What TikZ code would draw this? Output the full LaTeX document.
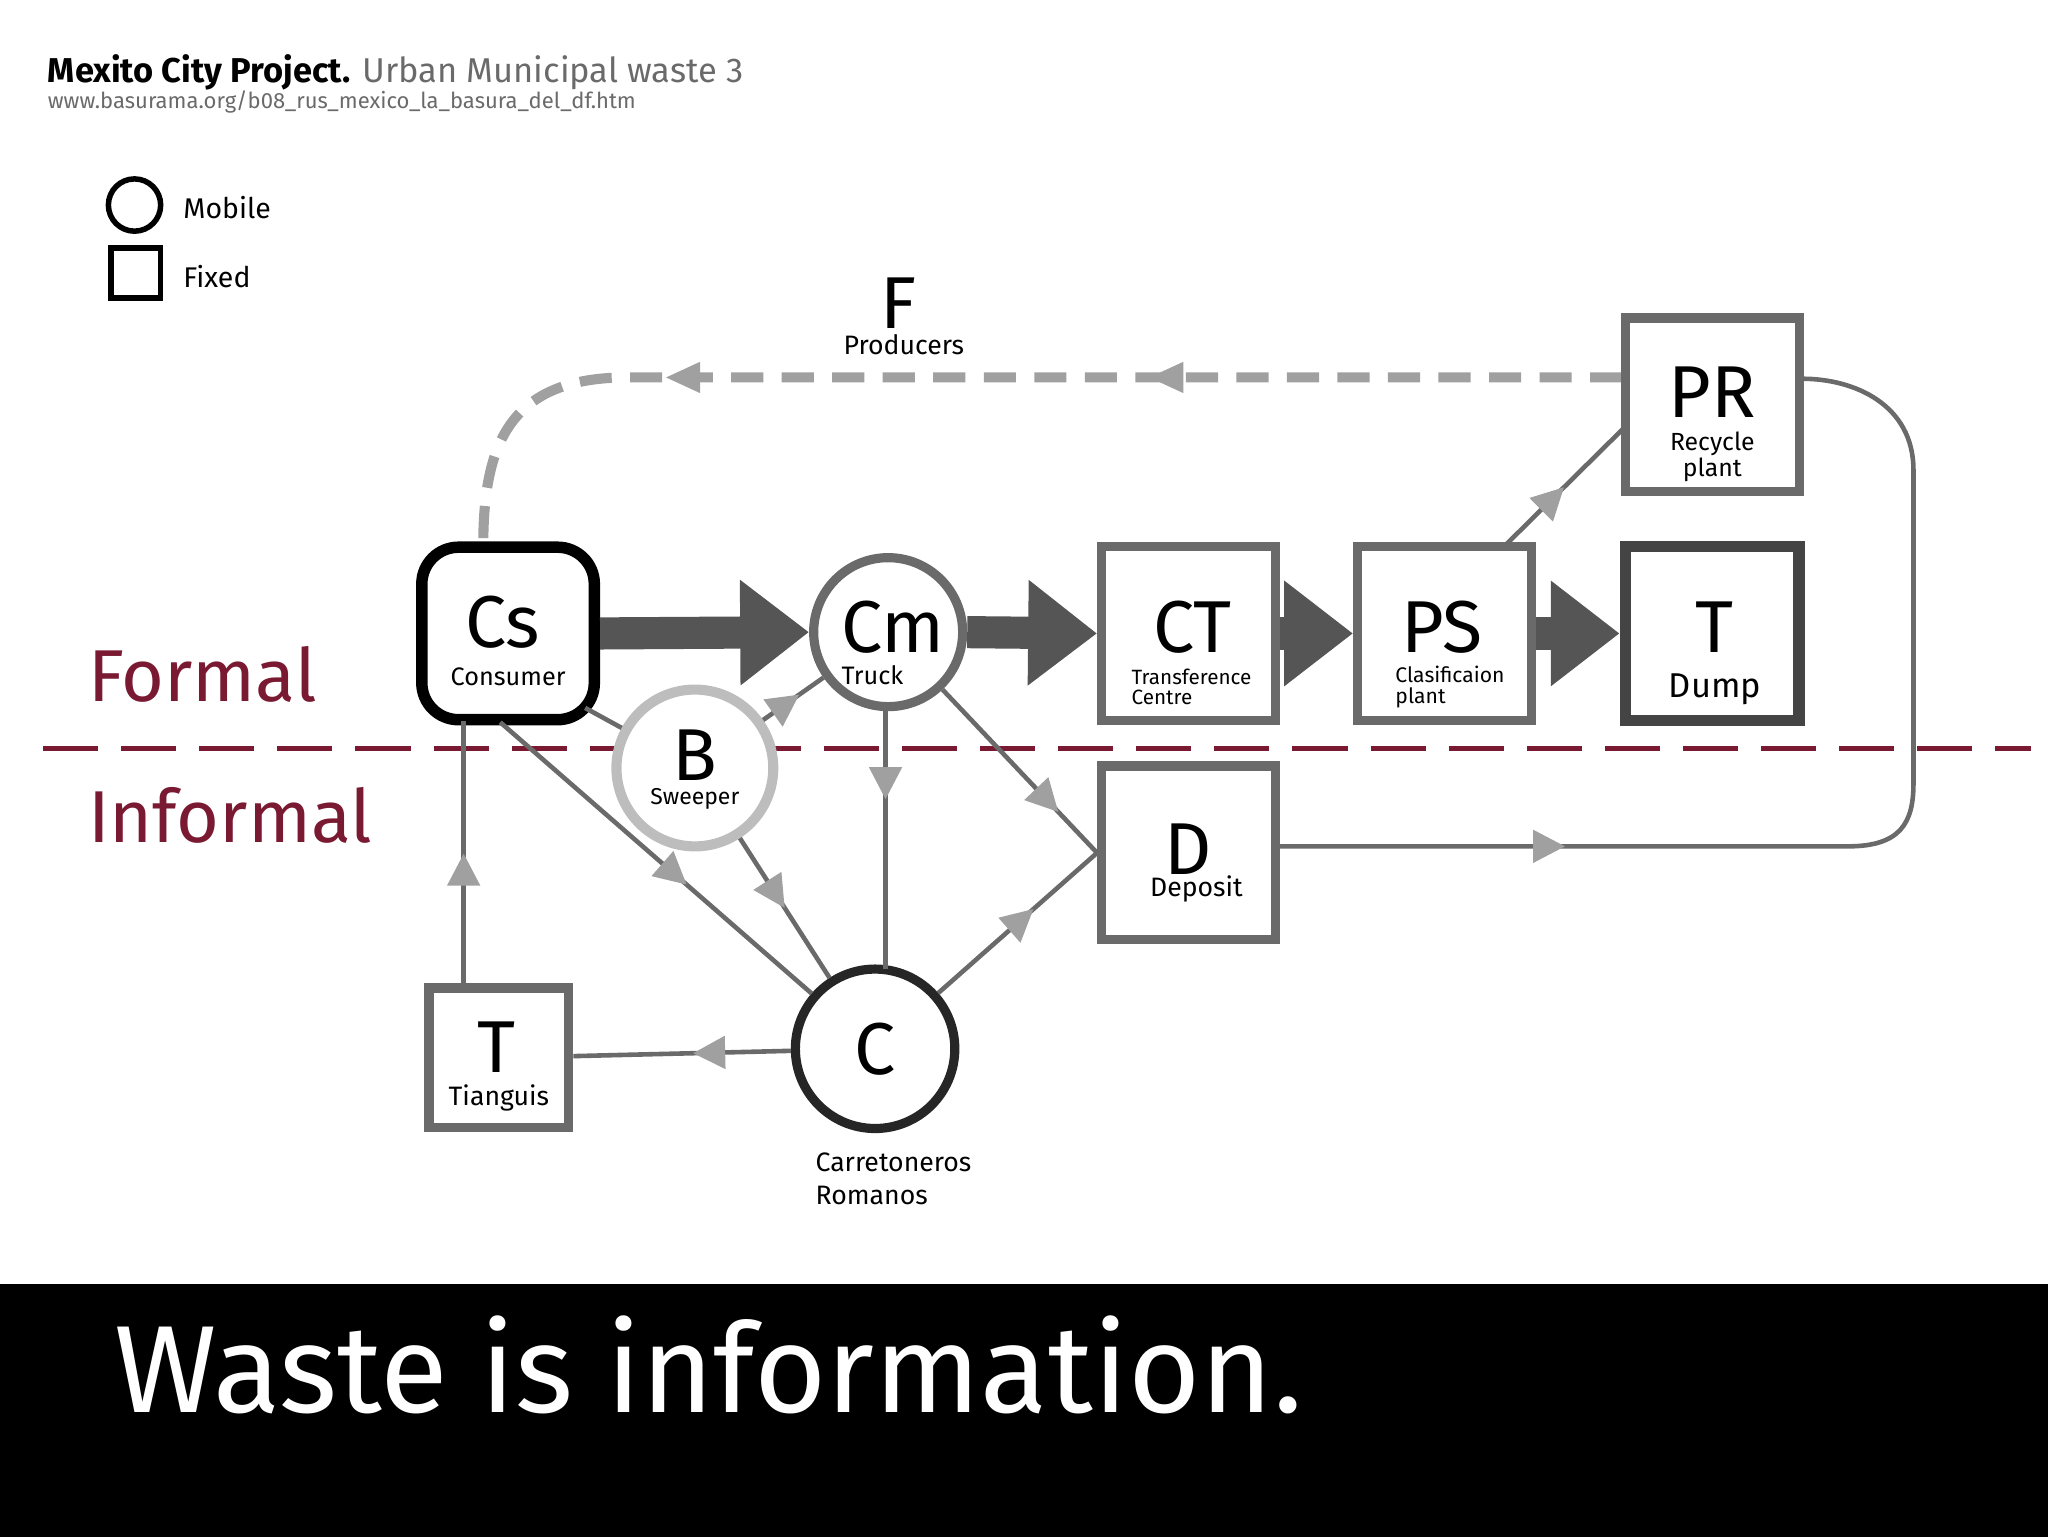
\documentclass[tikz,border=0pt]{standalone}
\usepackage{fontspec}
\setmainfont{Fira Sans}
\usetikzlibrary{arrows.meta,decorations.markings}
\definecolor{dred}{HTML}{7A1A32}
\definecolor{dg}{HTML}{555555}
\definecolor{mg}{HTML}{6A6A6A}
\definecolor{lg}{HTML}{A0A0A0}
\begin{document}
\begin{tikzpicture}[x=0.01cm,y=-0.01cm,
 fix/.style={draw=mg,line width=2pt,fill=white,minimum size=1.3cm,inner sep=0},
 mob/.style={circle,draw=mg,line width=2pt,fill=white,minimum size=1.2cm,inner sep=0},
 big/.style={font=\fontsize{16}{16}\selectfont},
 thick arr/.style={dg,line width=7pt,-{Triangle[length=15pt,width=22pt]}},
 thin/.style={mg,line width=1pt,postaction={decorate},decoration={markings,mark=at position #1 with {\arrow{Triangle[length=7pt,width=7pt,fill=lg,color=lg]}}}},
 thin/.default=0.5]
\useasboundingbox (0,0) rectangle (1568,1177);
\fill[black] (0,983) rectangle (1568,1177);
\node[anchor=west,white,font=\fontsize{27}{27}\selectfont] at (75,1045) {Waste is information.};
% title
\node[anchor=base west,inner sep=0,font=\fontsize{7.5}{8}\selectfont] at (36,63) {\textbf{Mexito City Project.} \textcolor{mg}{Urban Municipal waste 3}};
\node[anchor=base west,inner sep=0,font=\fontsize{4.8}{5}\selectfont,mg] at (36,83) {www.basurama.org/b08\_rus\_mexico\_la\_basura\_del\_df.htm};
% legend
\node[circle,draw,line width=1.2pt,minimum size=0.4cm,inner sep=0] (lm) at (103,157) {};
\node[anchor=west,font=\fontsize{6.2}{7}\selectfont] at (128,159) {Mobile};
\node[draw,line width=1.2pt,minimum size=0.38cm,inner sep=0] (lf) at (104,209) {};
\node[anchor=west,font=\fontsize{6.2}{7}\selectfont] at (128,212) {Fixed};
% formal / informal
\draw[dred,line width=1.2pt,dash pattern=on 12pt off 5pt] (33,573) -- (1555,573);
\node[anchor=west,dred,font=\fontsize{16}{16}\selectfont] at (55,516) {Formal};
\node[anchor=west,dred,font=\fontsize{16}{16}\selectfont] at (55,624) {Informal};
% F
\node[big] (F) at (688,232) {F};
\node[font=\fontsize{5.8}{6}\selectfont] at (692,264) {Producers};
% dashed feedback
\coordinate (d1) at (370,418);
\draw[lg,line width=2.2pt,dash pattern=on 7pt off 4pt] (1242,289) -- (480,289) .. controls (390,289) and (370,340) .. (d1);
\foreach \x in {510,880} \fill[lg] (\x,289) -- (\x+26,277) -- (\x+26,301) -- cycle;
% nodes
\node[fix,draw=black,rounded corners=8pt,line width=2.5pt,minimum size=1.32cm] (Cs) at (389,485) {};
\node[big] at (385,476) {Cs}; \node[font=\fontsize{5.5}{6}\selectfont] at (389,518) {Consumer};
\node[mob,minimum size=1.14cm] (Cm) at (680,484) {};
\node[big] at (684,480) {Cm}; \node[font=\fontsize{5.5}{6}\selectfont] at (668,517) {Truck};
\node[fix,minimum size=1.33cm] (CT) at (910,485) {};
\node[big] at (913,480) {CT}; \node[align=left,anchor=west,font=\fontsize{4.5}{4.2}\selectfont] at (854,526) {Transference\\Centre};
\node[fix,minimum size=1.33cm] (PS) at (1106,485) {};
\node[big] at (1104,480) {PS}; \node[align=left,anchor=west,font=\fontsize{4.6}{4.6}\selectfont] at (1056,526) {Clasificaion\\plant};
\node[fix,draw=dg!80!black,line width=2.5pt,minimum size=1.33cm] (Td) at (1311,485) {};
\node[big] at (1313,480) {T}; \node[font=\fontsize{7.5}{8}\selectfont] at (1313,528) {Dump};
\node[fix,minimum size=1.33cm] (PR) at (1311,310) {};
\node[big] at (1311,300) {PR}; \node[align=center,font=\fontsize{5.4}{5.6}\selectfont] at (1311,350) {Recycle\\plant};
\node[mob,draw=lg!70,line width=2.2pt,minimum size=1.2cm] (B) at (532,588) {};
\node[big] at (532,578) {B}; \node[font=\fontsize{5}{5}\selectfont] at (532,612) {Sweeper};
\node[fix,minimum size=1.33cm] (D) at (910,653) {};
\node[big] at (910,650) {D}; \node[font=\fontsize{5.8}{6}\selectfont] at (916,681) {Deposit};
\node[fix,minimum size=1.07cm] (Tt) at (382,810) {};
\node[big] at (380,802) {T}; \node[font=\fontsize{5.8}{6}\selectfont] at (382,841) {Tianguis};
\node[mob,draw=black!85,minimum size=1.22cm] (C) at (670,803) {};
\node[big] at (670,803) {C};
\node[align=left,anchor=north west,font=\fontsize{5.8}{7.2}\selectfont] at (612,870) {Carretoneros\\Romanos};
% thick arrows
\draw[thick arr] (Cs.east) -- (Cm.west);
\draw[thick arr] (Cm.east) -- (CT.west);
\draw[thick arr] (CT.east) -- (PS.west);
\draw[thick arr] (PS.east) -- (Td.west);
% thin
\coordinate (cs1) at (383,553);
\draw[thin=0.6] (cs1) -- (C);
\coordinate (cs2) at (448,542);
\draw[mg,line width=1pt] (cs2) -- (B);
\draw[thin=0.6] (B) -- (Cm);
\draw[thin=0.5] (B) -- (C);
\coordinate (cm1) at (678,542);
\coordinate (c1) at (678,742);
\draw[thin=0.35] (cm1) -- (c1);
\draw[thin=0.75] (Cm) -- (D.west);
\draw[thin=0.6] (C) -- (D.west);
\draw[thin=0.45] (C) -- (Tt);
\coordinate (tt1) at (355,755);
\coordinate (cs3) at (355,552);
\draw[thin=0.5] (tt1) -- (cs3);
\coordinate (ps1) at (1152,418);
\coordinate (pr2) at (1243,328);
\draw[thin=0.5] (ps1) -- (pr2);
\coordinate (d2) at (978,648);
\coordinate (r1) at (1465,600);
\coordinate (pr1) at (1380,290);
\draw[thin=0.25] (d2) -- (1415,648) .. controls (1455,648) and (1465,630) .. (r1) -- (1465,360) .. controls (1465,310) and (1420,290) .. (pr1);
\end{tikzpicture}
\end{document}
